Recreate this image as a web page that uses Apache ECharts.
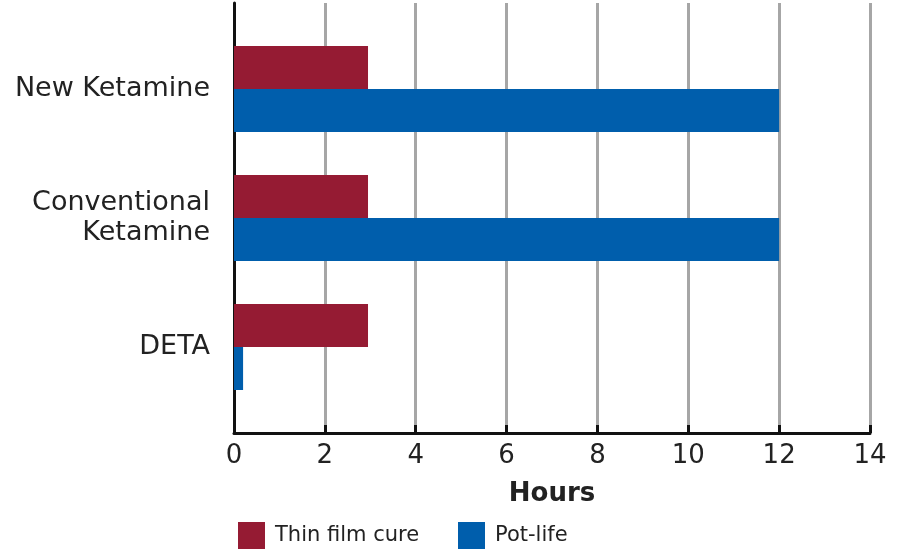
<!DOCTYPE html>
<html><head><meta charset="utf-8">
<script src="https://cdn.jsdelivr.net/npm/echarts@6/dist/echarts.min.js"></script>
<style>html,body{margin:0;padding:0;background:#fff}#c{width:900px;height:550px}</style>
</head><body><div id="c"></div>
<script>
const categories = ['New Ketamine', 'Conventional\nKetamine', 'DETA'];
const thinFilmCure = [2.95, 2.95, 2.95];
const potLife = [12, 12, 0.2];
const seriesNames = ['Thin film cure', 'Pot-life'];
const xTicks = [0, 2, 4, 6, 8, 10, 12, 14];

const FONT = '"DejaVu Sans", sans-serif';
const RED = '#951b33', BLUE = '#005eac';
const chart = echarts.init(document.getElementById('c'));
chart.setOption({
  animation: false,
  textStyle: { fontFamily: FONT },
  grid: [
    { left: 234, right: 30, top: 3, height: 430 },
    { left: 234, right: 30, top: 24.5, height: 387 }
  ],
  legend: [
    { data: [seriesNames[0]], left: 238, top: 522, padding: 0, icon: 'rect', itemWidth: 27, itemHeight: 27,
      textStyle: { fontSize: 21, color: '#222', fontFamily: FONT, padding: [3, 0, 0, 5] } },
    { data: [seriesNames[1]], left: 458, top: 522, padding: 0, icon: 'rect', itemWidth: 27, itemHeight: 27,
      textStyle: { fontSize: 21, color: '#222', fontFamily: FONT, padding: [3, 0, 0, 5] } }
  ],
  xAxis: [
    { gridIndex: 0, type: 'value', min: xTicks[0], max: xTicks[xTicks.length - 1], interval: 2,
      name: 'Hours', nameLocation: 'middle', nameGap: 48,
      nameTextStyle: { fontSize: 26, fontWeight: 'bold', color: '#222', fontFamily: FONT },
      axisLine: { show: true, lineStyle: { color: '#111', width: 3 } },
      axisTick: { show: true, inside: true, length: 8, lineStyle: { color: '#111', width: 3 } },
      axisLabel: { fontSize: 26, color: '#222', margin: 10, fontFamily: FONT },
      splitLine: { show: true, lineStyle: { color: '#a6a6a6', width: 3 } } },
    { gridIndex: 1, type: 'value', min: xTicks[0], max: xTicks[xTicks.length - 1], interval: 2, show: false }
  ],
  yAxis: [
    { gridIndex: 0, type: 'category', data: [''],
      axisLine: { show: true, lineStyle: { color: '#111', width: 3 } },
      axisTick: { show: false }, axisLabel: { show: false }, splitLine: { show: false } },
    { gridIndex: 1, type: 'category', data: categories, inverse: true,
      axisLine: { show: false }, axisTick: { show: false },
      axisLabel: { fontSize: 27, color: '#222', margin: 24, lineHeight: 30, align: 'right', fontFamily: FONT } }
  ],
  series: [
    { name: seriesNames[0], type: 'bar', xAxisIndex: 1, yAxisIndex: 1, data: thinFilmCure,
      itemStyle: { color: RED }, barGap: '0%', barCategoryGap: '33.3%' },
    { name: seriesNames[1], type: 'bar', xAxisIndex: 1, yAxisIndex: 1, data: potLife,
      itemStyle: { color: BLUE }, barGap: '0%', barCategoryGap: '33.3%' }
  ]
});
</script></body></html>
